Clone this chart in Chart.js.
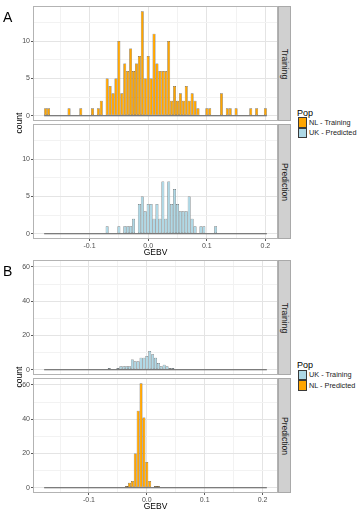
<!DOCTYPE html>
<html><head><meta charset="utf-8">
<script src="https://cdn.jsdelivr.net/npm/chart.js@4.4.1/dist/chart.umd.min.js"></script>
<style>
body{margin:0;background:#fff;width:361px;height:514px;overflow:hidden;position:relative;font-family:"Liberation Sans",Arial,Helvetica,sans-serif;}
canvas{position:absolute;}
.strip{position:absolute;background:#d0d0d0;border:1px solid #a9a9a9;box-sizing:border-box;}
.strip span{position:absolute;left:50%;top:50%;transform:translate(-50%,-50%) rotate(90deg);white-space:nowrap;font-size:8.5px;color:#1a1a1a;line-height:1;}
.t{position:absolute;white-space:nowrap;line-height:1;}
.key{position:absolute;box-sizing:border-box;border:1px solid #3a3a3a;}
</style></head>
<body>
<canvas id="aTop"></canvas>
<canvas id="aBot"></canvas>
<canvas id="bTop"></canvas>
<canvas id="bBot"></canvas>

<div class="t" style="left:3px;top:10px;font-size:14px;color:#000">A</div>
<div class="t" style="left:3px;top:264px;font-size:14px;color:#000">B</div>

<div class="strip" style="left:278px;top:6px;width:13px;height:115px"><span>Training</span></div>
<div class="strip" style="left:278px;top:124px;width:13px;height:115px"><span>Prediction</span></div>
<div class="strip" style="left:278px;top:260px;width:13px;height:115px"><span>Training</span></div>
<div class="strip" style="left:278px;top:378px;width:13px;height:115px"><span>Prediction</span></div>

<div class="t" style="left:18.5px;top:122.5px;font-size:8.5px;transform:translate(-50%,-50%) rotate(-90deg)">count</div>
<div class="t" style="left:18.5px;top:376.5px;font-size:8.5px;transform:translate(-50%,-50%) rotate(-90deg)">count</div>
<div class="t" style="left:155.5px;top:252px;font-size:8.5px;transform:translate(-50%,-50%)">GEBV</div>
<div class="t" style="left:155.5px;top:506px;font-size:8.5px;transform:translate(-50%,-50%)">GEBV</div>

<div id="legA"></div>
<div id="legB"></div>

<script>
// ---- data ----
const BIN_START = -0.175;   // centre of first histogram bin
const BIN_WIDTH = 0.005;
const xTickValues = [-0.1, 0.0, 0.1, 0.2];
const xTickLabels = ['-0.1', '0.0', '0.1', '0.2'];
const yTickValuesA = [0, 5, 10];
const yTickLabelsA = ['0', '5', '10'];
const yTickValuesB = [0, 20, 40, 60];
const yTickLabelsB = ['0', '20', '40', '60'];
const legendTitle = 'Pop';
const seriesNamesA = ['NL - Training', 'UK - Predicted'];
const seriesNamesB = ['UK - Training', 'NL - Predicted'];
const ORANGE = '#FFA500', BLUE = '#ADD8E6';

// A: NL - Training (76 bins)
const countsA_NLTraining = [
  1,1,0,0,0,0,0,0,1,0,
  0,0,1,0,0,0,1,0,1,2,
  0,5,4,3,5,10,3,7,6,9,
  6,7,8,14,5,8,5,11,7,6,
  6,6,10,2,4,2,3,2,4,2,
  3,2,1,0,0,1,1,0,0,0,
  3,0,1,1,0,1,0,0,0,0,
  1,0,1,0,0,1];
// A: UK - Predicted (76 bins)
const countsA_UKPredicted = [
  0,0,0,0,0,0,0,0,0,0,
  0,0,0,0,0,0,0,0,0,0,
  0,1,0,0,0,1,0,1,1,1,
  2,0,4,5,3,4,4,2,4,2,
  7,2,7,4,6,4,3,3,3,5,
  2,1,0,1,1,0,0,0,1,0,
  0,0,0,0,0,0,0,0,0,0,
  0,0,0,0,0,0];
// B: UK - Training (77 bins)
const countsB_UKTraining = [
  0,0,0,0,0,0,0,0,0,0,
  0,0,0,0,0,0,0,0,0,0,
  0,0,1,0,0,1,2,2,2,2,
  6,5,5,7,7,8,11,9,7,4,
  2,3,2,1,1,0,0,0,0,0,
  0,0,0,0,0,0,0,0,0,0,
  0,0,0,0,0,0,0,0,0,0,
  0,0,0,0,0,0,0];
// B: NL - Predicted (77 bins)
const countsB_NLPredicted = [
  0,0,0,0,0,0,0,0,0,0,
  0,0,0,0,0,0,0,0,0,0,
  0,0,0,0,0,0,0,0,1,3,
  4,20,45,61,41,15,4,0,1,1,
  0,0,0,0,0,0,0,0,0,0,
  0,0,0,0,0,0,0,0,0,0,
  0,0,0,0,0,0,0,0,0,0,
  0,0,0,0,0,0,0];

// ---- helpers ----
const FONT = '"Liberation Sans", Arial, Helvetica, sans-serif';
const near = (v, arr) => arr.findIndex(t => Math.abs(v - t) < 1e-6);

const framePlugin = {
  id: 'frame',
  afterDraw(chart) {
    const {ctx, chartArea: a} = chart;
    ctx.save();
    ctx.strokeStyle = '#b3b3b3';
    ctx.lineWidth = 1;
    ctx.strokeRect(Math.round(a.left) + 0.5, Math.round(a.top) + 0.5,
      Math.round(a.right - a.left) - 1, Math.round(a.bottom - a.top) - 1);
    ctx.restore();
  }
};

function makePanel(id, pos, counts, color, opt) {
  const cv = document.getElementById(id);
  const axisH = opt.showX ? 12 : 0;
  cv.width = pos.w; cv.height = pos.h + axisH;
  cv.style.left = pos.l + 'px'; cv.style.top = pos.t + 'px';
  cv.style.width = pos.w + 'px'; cv.style.height = (pos.h + axisH) + 'px';

  const bars = counts.map((c, i) => ({x: BIN_START + i * BIN_WIDTH, y: c}));
  const lo = BIN_START - BIN_WIDTH / 2;
  const hi = BIN_START + (counts.length - 1) * BIN_WIDTH + BIN_WIDTH / 2;
  const span = hi - lo;
  const xmin = lo - 0.05 * span, xmax = hi + 0.05 * span;

  new Chart(cv.getContext('2d'), {
    type: 'bar',
    data: {
      datasets: [
        {type: 'bar', data: bars, backgroundColor: color, borderColor: '#3c3c3c',
         borderWidth: 0.5, borderSkipped: false, inflateAmount: 0,
         barPercentage: 1, categoryPercentage: 1, order: 2},
        {type: 'line', data: [{x: lo, y: 0}, {x: hi, y: 0}], borderColor: '#5a5a5a',
         borderWidth: 1.2, pointRadius: 0, order: 1}
      ]
    },
    options: {
      responsive: false, animation: false, devicePixelRatio: 1,
      layout: {padding: 0},
      plugins: {legend: {display: false}, tooltip: {enabled: false}},
      scales: {
        x: {
          type: 'linear', min: xmin, max: xmax, offset: false,
          grid: {offset: false, drawTicks: opt.showX, tickLength: 2,
                 color: c => near(c.tick.value, xTickValues) >= 0 ? '#e4e4e4' : '#f2f2f2',
                 tickColor: c => near(c.tick.value, xTickValues) >= 0 ? '#5a5a5a' : 'rgba(0,0,0,0)'},
          border: {display: false},
          ticks: {display: opt.showX, stepSize: 0.05, includeBounds: false, autoSkip: false,
                  maxRotation: 0, padding: 1, color: '#4d4d4d', font: {size: 7, family: FONT},
                  callback: v => { const k = near(v, xTickValues); return k >= 0 ? xTickLabels[k] : ''; }},
          afterFit: ax => { ax.height = axisH; ax.paddingLeft = 0; ax.paddingRight = 0; }
        },
        y: {
          min: opt.ymin, max: opt.ymax,
          grid: {tickLength: 2,
                 color: c => near(c.tick.value, opt.yTicks) >= 0 ? '#e4e4e4' : '#f2f2f2',
                 tickColor: c => near(c.tick.value, opt.yTicks) >= 0 ? '#5a5a5a' : 'rgba(0,0,0,0)'},
          border: {display: false},
          ticks: {stepSize: opt.ystep, includeBounds: false, autoSkip: false, padding: 1,
                  color: '#4d4d4d', font: {size: 7, family: FONT},
                  callback: v => { const k = near(v, opt.yTicks); return k >= 0 ? opt.yLabels[k] : ''; }},
          afterFit: ax => { ax.width = pos.axisW; ax.paddingTop = 0; ax.paddingBottom = 0; }
        }
      }
    },
    plugins: [framePlugin]
  });
}

const yA = {ymin: -0.7, ymax: 14.7, ystep: 2.5, yTicks: yTickValuesA, yLabels: yTickLabelsA};
const yB = {ymin: -3.05, ymax: 64.05, ystep: 10, yTicks: yTickValuesB, yLabels: yTickLabelsB};

makePanel('aTop', {l: 0, t: 6, w: 278, h: 115, axisW: 33}, countsA_NLTraining, ORANGE, {...yA, showX: false});
makePanel('aBot', {l: 0, t: 124, w: 278, h: 115, axisW: 33}, countsA_UKPredicted, BLUE, {...yA, showX: true});
makePanel('bTop', {l: 0, t: 260, w: 278, h: 115, axisW: 33}, countsB_UKTraining, BLUE, {...yB, showX: false});
makePanel('bBot', {l: 0, t: 378, w: 278, h: 115, axisW: 33}, countsB_NLPredicted, ORANGE, {...yB, showX: true});

// ---- legends (HTML) ----
function legend(el, top, names, colors) {
  let h = `<div class="t" style="left:297px;top:${top}px;font-size:9px;color:#000">${legendTitle}</div>`;
  names.forEach((n, i) => {
    const ky = top + 8.5 + i * 10.5;
    h += `<div class="key" style="left:297.5px;top:${ky}px;width:9.5px;height:10.5px;background:${colors[i]}"></div>`;
    h += `<div class="t" style="left:309px;top:${ky + 1.8}px;font-size:7.3px;color:#1a1a1a">${n}</div>`;
  });
  document.getElementById(el).innerHTML = h;
}
legend('legA', 108.5, seriesNamesA, [ORANGE, BLUE]);
legend('legB', 361, seriesNamesB, [BLUE, ORANGE]);
</script>
</body></html>
